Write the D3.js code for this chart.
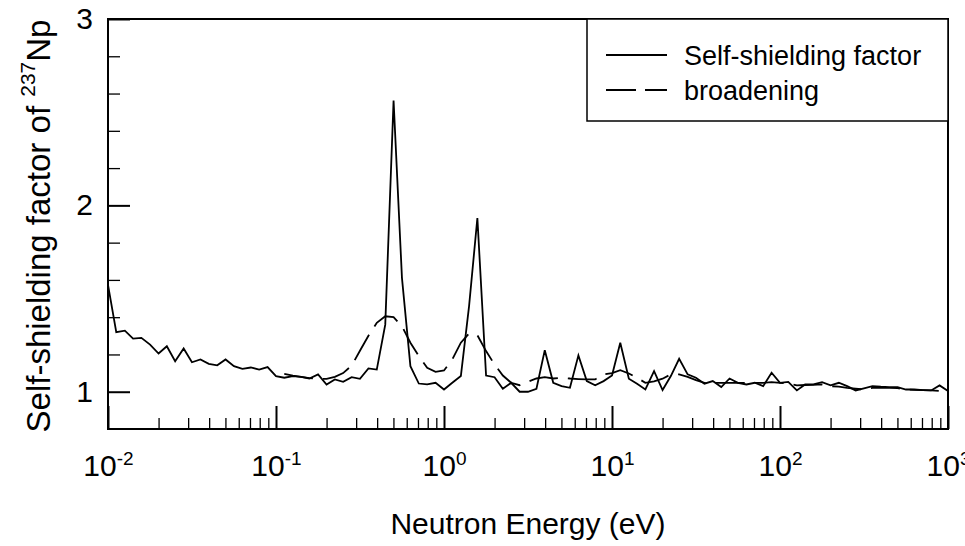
<!DOCTYPE html>
<html>
<head>
<meta charset="utf-8">
<script src="https://cdn.jsdelivr.net/npm/d3@7"></script>
<style>
  body { margin: 0; background: #fff; }
  svg { display: block; font-family: "Liberation Sans", Arial, Helvetica, sans-serif; }
</style>
</head>
<body>
<svg id="chart" width="965" height="546"></svg>
<script>
// neutron energy grid (eV), 20 points per decade
var energy = [
  0.0100, 0.0112, 0.0126, 0.0141, 0.0158, 0.0178, 0.0200, 0.0224, 0.0251, 0.0282,
  0.0316, 0.0355, 0.0398, 0.0447, 0.0501, 0.0562, 0.0631, 0.0708, 0.0794, 0.0891,
  0.100, 0.112, 0.126, 0.141, 0.158, 0.178, 0.200, 0.224, 0.251, 0.282,
  0.316, 0.355, 0.398, 0.447, 0.501, 0.562, 0.631, 0.708, 0.794, 0.891,
  1.00, 1.12, 1.26, 1.41, 1.58, 1.78, 2.00, 2.24, 2.51, 2.82,
  3.16, 3.55, 3.98, 4.47, 5.01, 5.62, 6.31, 7.08, 7.94, 8.91,
  10.0, 11.2, 12.6, 14.1, 15.8, 17.8, 20.0, 22.4, 25.1, 28.2,
  31.6, 35.5, 39.8, 44.7, 50.1, 56.2, 63.1, 70.8, 79.4, 89.1,
  100, 112, 126, 141, 158, 178, 200, 224, 251, 282,
  316, 355, 398, 447, 501, 562, 631, 708, 794, 891,
  1000
];

// self-shielding factor, one value per energy point
var selfShielding = [
  1.573, 1.320, 1.328, 1.285, 1.289, 1.253, 1.205, 1.244, 1.164, 1.232,
  1.158, 1.173, 1.150, 1.142, 1.173, 1.137, 1.123, 1.130, 1.119, 1.132,
  1.084, 1.075, 1.084, 1.080, 1.071, 1.093, 1.039, 1.066, 1.053, 1.078,
  1.069, 1.125, 1.119, 1.360, 2.563, 1.611, 1.137, 1.044, 1.039, 1.048,
  1.012, 1.048, 1.084, 1.459, 1.932, 1.087, 1.078, 1.016, 1.048, 1.000,
  1.000, 1.016, 1.223, 1.048, 1.030, 1.021, 1.195, 1.057, 1.035, 1.057,
  1.087, 1.263, 1.070, 1.043, 1.012, 1.110, 1.009, 1.084, 1.177, 1.093,
  1.075, 1.043, 1.057, 1.025, 1.071, 1.048, 1.039, 1.048, 1.030, 1.102,
  1.048, 1.053, 1.007, 1.039, 1.039, 1.051, 1.034, 1.048, 1.030, 1.007,
  1.018, 1.030, 1.027, 1.025, 1.025, 1.012, 1.012, 1.009, 1.007, 1.034,
  1.004
];

// broadening curve starts at energy[21] and ends at energy[99]
var broadeningStart = 21;
var broadening = [
  1.096, 1.087, 1.080, 1.073, 1.069, 1.069, 1.080, 1.100, 1.140,
  1.220, 1.300, 1.370, 1.405, 1.400, 1.352, 1.263, 1.191, 1.128, 1.107,
  1.114, 1.173, 1.263, 1.312, 1.303, 1.218, 1.146, 1.087, 1.048, 1.035,
  1.054, 1.071, 1.078, 1.071, 1.075, 1.071, 1.068, 1.066, 1.066, 1.093,
  1.100, 1.116, 1.098, 1.075, 1.048, 1.055, 1.070, 1.093, 1.093, 1.080,
  1.062, 1.048, 1.048, 1.048, 1.048, 1.048, 1.048, 1.048, 1.048, 1.051,
  1.048, 1.045, 1.034, 1.036, 1.037, 1.039, 1.030, 1.027, 1.021, 1.016,
  1.012, 1.021, 1.021, 1.021, 1.019, 1.012, 1.010, 1.009, 1.007, 1.004
];

var xMajor = [0.01, 0.1, 1, 10, 100, 1000];
var xExponents = ["-2", "-1", "0", "1", "2", "3"];
var yMajor = [1, 2, 3];
var yMinor = [1.2, 1.4, 1.6, 1.8, 2.2, 2.4, 2.6, 2.8];
var legendLabels = ["Self-shielding factor", "broadening"];

var margin = {top: 19, right: 17, bottom: 117, left: 108},
    width = 965,
    height = 546;

var svg = d3.select("#chart");

var x = d3.scaleLog()
  .domain([0.01, 1000])
  .range([margin.left, width - margin.right]);

var y = d3.scaleLinear()
  .domain([0.8, 3])
  .range([height - margin.bottom, margin.top]);

var xMinor = [];
xMajor.slice(0, -1).forEach(function(m) {
  [2, 3, 4, 5, 6, 7, 8, 9].forEach(function(k) { xMinor.push(m * k); });
});

// x axis minor + major ticks (inward)
svg.append("g")
  .attr("transform", "translate(0," + y(0.8) + ")")
  .call(d3.axisBottom(x).tickValues(xMinor).tickSize(-11).tickFormat(""))
  .call(g => g.select(".domain").remove())
  .call(g => g.selectAll("line").attr("stroke", "#000").attr("stroke-width", 1.3));

var xAxis = svg.append("g")
  .attr("transform", "translate(0," + y(0.8) + ")")
  .call(d3.axisBottom(x).tickValues(xMajor).tickSize(-23).tickFormat(function() { return "10"; }))
  .call(g => g.select(".domain").remove())
  .call(g => g.selectAll("line").attr("stroke", "#000").attr("stroke-width", 2));

xAxis.selectAll(".tick text")
  .attr("y", 47)
  .attr("dy", null)
  .attr("font-size", 30)
  .attr("fill", "#000")
  .each(function(d, i) {
    d3.select(this).append("tspan")
      .attr("dy", -11)
      .attr("font-size", 19)
      .text(xExponents[i]);
  });

// y axis
svg.append("g")
  .attr("transform", "translate(" + x(0.01) + ",0)")
  .call(d3.axisLeft(y).tickValues(yMinor).tickSize(-12).tickFormat(""))
  .call(g => g.select(".domain").remove())
  .call(g => g.selectAll("line").attr("stroke", "#000").attr("stroke-width", 1.3));

svg.append("g")
  .attr("transform", "translate(" + x(0.01) + ",0)")
  .call(d3.axisLeft(y).tickValues(yMajor).tickSize(-22).tickPadding(15).tickFormat(d3.format("d")))
  .call(g => g.select(".domain").remove())
  .call(g => g.selectAll("line").attr("stroke", "#000").attr("stroke-width", 2))
  .call(g => g.selectAll("text").attr("font-size", 30).attr("fill", "#000"));

// curves
var line = d3.line()
  .x(d => x(d[0]))
  .y(d => y(d[1]));

var solidData = energy.map(function(e, i) { return [e, selfShielding[i]]; });
var dashData = broadening.map(function(v, i) { return [energy[broadeningStart + i], v]; });

svg.append("path")
  .datum(solidData)
  .attr("fill", "none")
  .attr("stroke", "#000")
  .attr("stroke-width", 1.8)
  .attr("d", line);

svg.append("path")
  .datum(dashData)
  .attr("fill", "none")
  .attr("stroke", "#000")
  .attr("stroke-width", 1.8)
  .attr("stroke-dasharray", "29,10")
  .attr("d", line);

// frame
svg.append("rect")
  .attr("x", x(0.01))
  .attr("y", y(3))
  .attr("width", x(1000) - x(0.01))
  .attr("height", y(0.8) - y(3))
  .attr("fill", "none")
  .attr("stroke", "#000")
  .attr("stroke-width", 2);

// legend
var legend = svg.append("g");
legend.append("rect")
  .attr("x", 587)
  .attr("y", y(3))
  .attr("width", x(1000) - 587)
  .attr("height", 102)
  .attr("fill", "#fff")
  .attr("stroke", "#000")
  .attr("stroke-width", 1.5);

legendLabels.forEach(function(label, i) {
  var ly = 55 + i * 35;
  legend.append("line")
    .attr("x1", 606).attr("x2", 667)
    .attr("y1", ly).attr("y2", ly)
    .attr("stroke", "#000")
    .attr("stroke-width", 1.8)
    .attr("stroke-dasharray", i === 0 ? null : "30,9");
  legend.append("text")
    .attr("x", 684)
    .attr("y", ly + 10)
    .attr("font-size", 27)
    .text(label);
});

// axis titles
svg.append("text")
  .attr("x", (x(0.01) + x(1000)) / 2)
  .attr("y", 534)
  .attr("text-anchor", "middle")
  .attr("font-size", 30)
  .text("Neutron Energy (eV)");

var yTitle = svg.append("text")
  .attr("transform", "translate(50," + 226 + ") rotate(-90)")
  .attr("text-anchor", "middle")
  .attr("font-size", 33);
yTitle.append("tspan").text("Self-shielding factor of ");
yTitle.append("tspan").attr("dy", -15).attr("font-size", 21).text("237");
yTitle.append("tspan").attr("dy", 15).text("Np");
</script>
</body>
</html>
